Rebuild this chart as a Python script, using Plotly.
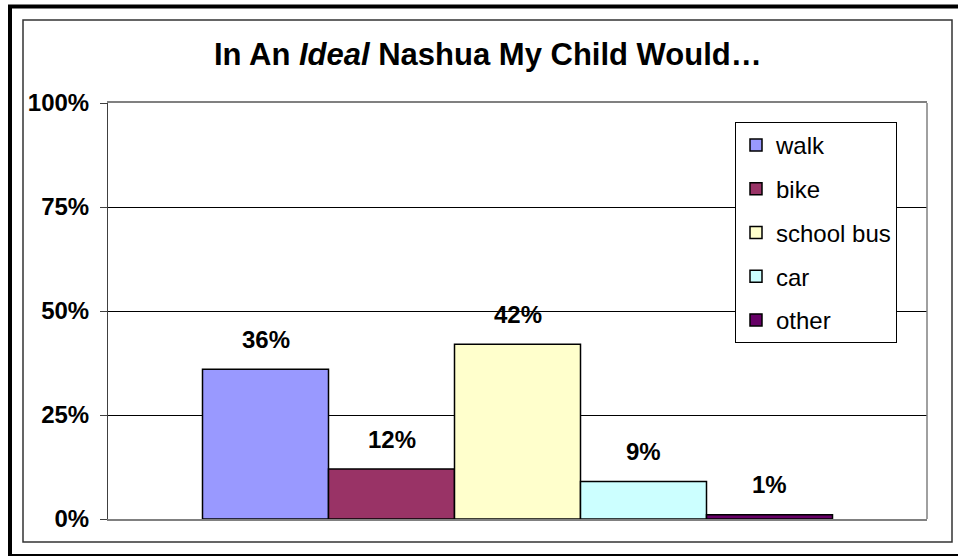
import plotly.graph_objects as go

# Survey results: ideal way for a child to get to school
modes = ["walk", "bike", "school bus", "car", "other"]
shares = [36, 12, 42, 9, 1]
colors = ["#9999FF", "#993366", "#FFFFCC", "#CCFFFF", "#660066"]
y_ticks = [0, 25, 50, 75, 100]
y_tick_labels = ["0%", "25%", "50%", "75%", "100%"]

WIDTH, HEIGHT = 958, 556
L, R, T, B = 108, 31, 103, 37
PW, PH = WIDTH - L - R, HEIGHT - T - B


def fx(px):
    """Page pixel x -> paper fraction."""
    return (px - L) / PW


def fy(py):
    """Page pixel y -> paper fraction."""
    return (T + PH - py) / PH


FONT = "Liberation Sans, Arial, sans-serif"

fig = go.Figure()
for i, (name, val, col) in enumerate(zip(modes, shares, colors)):
    fig.add_trace(go.Bar(
        x=[i], y=[val], width=1, name=name, legendgroup=name,
        marker=dict(color=col, line=dict(color="black", width=1.5)),
        hoverinfo="name+y",
    ))
    fig.add_annotation(
        x=i, y=val, text=f"<b>{val}%</b>", showarrow=False,
        yanchor="middle", yshift=30,
        font=dict(family=FONT, size=24, color="black"),
    )

# Chart title
fig.add_annotation(
    xref="paper", yref="paper", x=fx(488), y=fy(55),
    text="<b>In An <i>Ideal</i> Nashua My Child Would…</b>",
    showarrow=False, xanchor="center", yanchor="middle",
    font=dict(family=FONT, size=31, color="black"),
)

shapes = [
    # right edge of plot area
    dict(type="line", xref="paper", yref="paper", x0=1, x1=1, y0=0, y1=1,
         line=dict(color="#808080", width=1.5)),
    # chart area frame
    dict(type="rect", xref="paper", yref="paper",
         x0=fx(23), x1=fx(952), y0=fy(542), y1=fy(20),
         line=dict(color="#333333", width=1.5)),
    # heavy page frame
    dict(type="line", xref="paper", yref="paper",
         x0=fx(8), x1=fx(960), y0=fy(6.5), y1=fy(6.5),
         line=dict(color="black", width=4)),
    dict(type="line", xref="paper", yref="paper",
         x0=fx(10), x1=fx(10), y0=fy(5), y1=fy(558),
         line=dict(color="black", width=4)),
    dict(type="line", xref="paper", yref="paper",
         x0=fx(8), x1=fx(960), y0=fy(555.5), y1=fy(555.5),
         line=dict(color="black", width=3)),
]

fig.update_layout(
    width=WIDTH, height=HEIGHT,
    margin=dict(l=L, r=R, t=T, b=B, pad=0),
    paper_bgcolor="white", plot_bgcolor="white",
    barmode="overlay",
    showlegend=True,
    legend=dict(
        x=fx(735), y=fy(122), xanchor="left", yanchor="top",
        bgcolor="white", bordercolor="black", borderwidth=1,
        font=dict(family=FONT, size=24, color="black"),
        tracegroupgap=9.5, traceorder="grouped",
        itemclick=False, itemdoubleclick=False,
    ),
    xaxis=dict(
        range=[-1.25, 5.25], showticklabels=False, ticks="",
        showgrid=False, zeroline=False,
        showline=True, linecolor="#808080", linewidth=1.5, mirror=True,
        fixedrange=True,
    ),
    yaxis=dict(
        range=[0, 100], tickvals=y_ticks, ticktext=y_tick_labels,
        ticks="outside", ticklen=7, tickcolor="#404040", tickwidth=1,
        ticklabelstandoff=6,
        tickfont=dict(family=FONT, size=24, color="black", weight="bold"),
        showgrid=True, gridcolor="black", gridwidth=1,
        zeroline=False, showline=True, linecolor="#404040", linewidth=1,
        fixedrange=True,
    ),
    shapes=shapes,
    font=dict(family=FONT, color="black"),
)

fig.write_html("out.html")
